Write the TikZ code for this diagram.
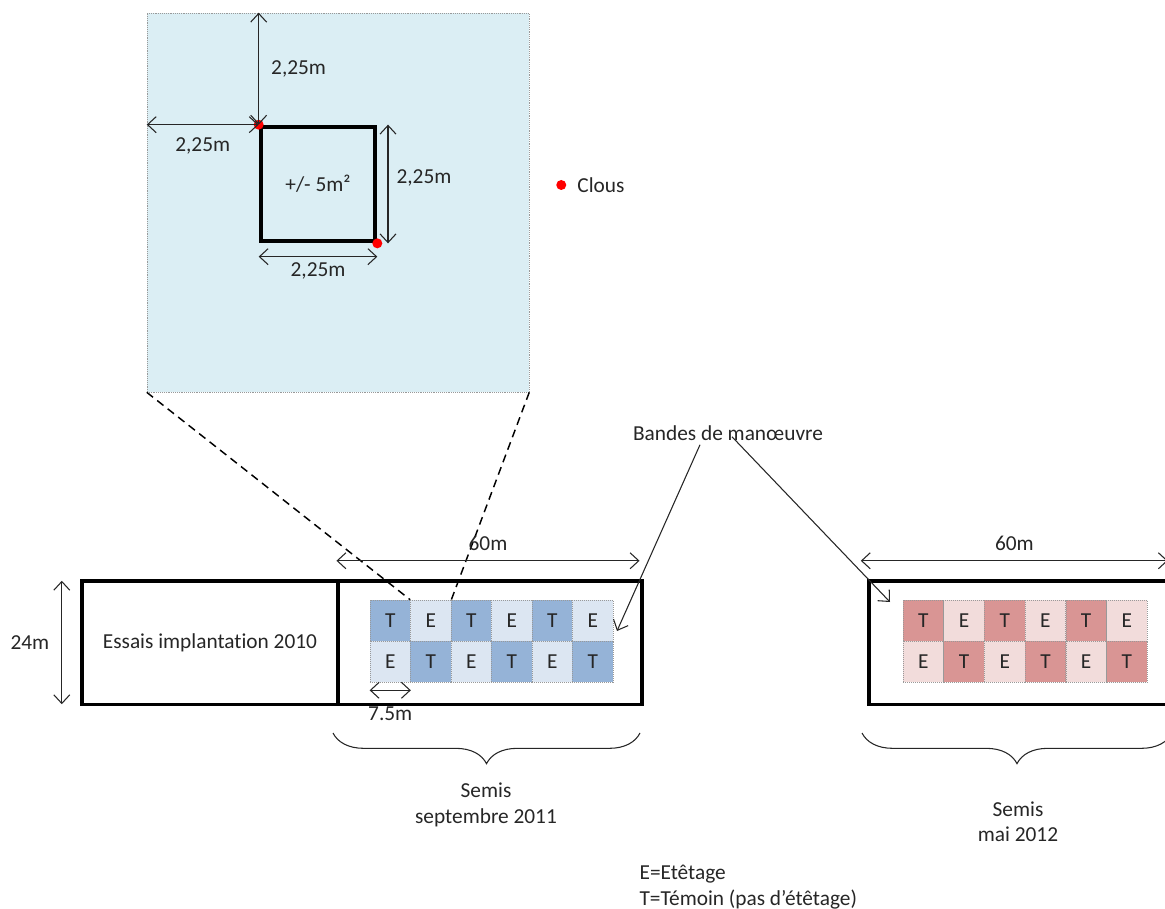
\documentclass[tikz,border=0pt]{standalone}
\usepackage{fontspec}
\setmainfont{Carlito}[Ligatures=NoCommon]
\usetikzlibrary{arrows.meta,positioning,decorations.pathreplacing}
\definecolor{zoomfill}{RGB}{219,238,244}
\definecolor{tblue}{RGB}{149,179,215}
\definecolor{eblue}{RGB}{220,230,242}
\definecolor{tred}{RGB}{217,149,148}
\definecolor{ered}{RGB}{242,220,219}
\tikzset{
  dim/.style={{Straight Barb[length=6.5pt,width=12pt]}-{Straight Barb[length=6.5pt,width=12pt]},line width=0.8pt,black!85},
  ptr/.style={-{Straight Barb[length=6.5pt,width=12pt]},line width=0.8pt,black!85},
  lbl/.style={font=\fontsize{16}{19}\selectfont,text=black!85,inner sep=1pt},
  field/.style={draw,line width=2.3pt,inner sep=0pt,lbl},
  cell/.style={draw=gray!80,densely dotted,line width=0.5pt,minimum width=30.4pt,minimum height=30.7pt,inner sep=0pt,lbl},
  clou/.style={circle,fill=red,inner sep=0pt,minimum size=7.5pt},
  accolade/.style={decorate,decoration={brace,mirror,amplitude=23pt,aspect=0.5},line width=0.8pt,black!85},
  zoomline/.style={dash pattern=on 6pt off 4pt,line width=1.1pt},
}

\begin{document}
\begin{tikzpicture}[x=0.75pt,y=-0.75pt]
\path[use as bounding box,clip] (0,0) rectangle (1165,909);

% zoom on one plot
\node[draw=gray!80,densely dotted,fill=zoomfill,minimum width=286.5pt,minimum height=284.3pt] (zoom) at (338,202.5) {};
\node[draw,line width=3.5pt,minimum size=85.5pt,lbl] (plot) at (318,184) {+/- 5m²};
\node[clou] (c1) at (plot.north west) {};
\node[clou] (c2) at (plot.south east) {};

\draw[dim] (zoom.north -| plot.west) -- (plot.north west)
  node[midway,right=8pt,lbl] (h1) {2,25m};
\draw[dim] (zoom.west |- plot.north) -- (plot.north west)
  node[midway,below=8pt,lbl] (h2) {2,25m};
\draw[dim] ([xshift=8pt]plot.north east) -- ([xshift=8pt]plot.south east)
  node[pos=0.45,right=5pt,lbl] (h3) {2,25m};
\draw[dim] ([yshift=-10pt]plot.south west) -- ([yshift=-10pt]plot.south east)
  node[midway,below=3pt,lbl] (h4) {2,25m};

% legend nail
\node[lbl] (clous) at (601,185) {Clous};
\node[clou,left=7pt of clous] (cl) {};

% fields
\node[field,minimum width=192pt,minimum height=92.3pt] (essais) at (210,642.5) {Essais implantation 2010};
\node[field,minimum width=228pt,minimum height=92.3pt] (f2011) at (490,642.5) {};
\node[field,minimum width=228pt,minimum height=92.3pt] (f2012) at (1021,642.5) {};

% sub-plots
\foreach \r in {1,2}
  \foreach \c in {1,...,6}{
    \pgfmathtruncatemacro{\odd}{mod(\c+\r,2)}
    \ifnum\odd=0
      \node[cell,fill=tblue] (s-\r-\c) at ({370+40.5*(\c-0.5)},{600+41*(\r-0.5)}) {T};
      \node[cell,fill=tred] (m-\r-\c) at ({903+40.7*(\c-0.5)},{600+41*(\r-0.5)}) {T};
    \else
      \node[cell,fill=eblue] (s-\r-\c) at ({370+40.5*(\c-0.5)},{600+41*(\r-0.5)}) {E};
      \node[cell,fill=ered] (m-\r-\c) at ({903+40.7*(\c-0.5)},{600+41*(\r-0.5)}) {E};
    \fi
  }

\draw[zoomline] (zoom.south west) -- (s-1-2.north west);
\draw[zoomline] (zoom.south east) -- (s-1-2.north east);

% dimensions
\draw[dim] ([xshift=-14pt,yshift=-1pt]essais.north west) -- ([xshift=-14pt,yshift=1pt]essais.south west)
  node[midway,left=8pt,lbl] (w24) {24m};
\draw[dim] ([yshift=14pt]f2011.north west) -- ([yshift=14pt,xshift=-3pt]f2011.north east)
  node[midway,above=6pt,lbl] (l1) {60m};
\draw[dim] ([yshift=14pt,xshift=-5pt]f2012.north west) -- ([yshift=14pt,xshift=-5pt]f2012.north east)
  node[midway,above=6pt,lbl] (l2) {60m};
\draw[dim] ([yshift=-6pt]s-2-1.south west) -- ([yshift=-6pt]s-2-1.south east)
  node[midway,below=11pt,lbl] (w75) {7.5m};

% manoeuvre bands
\node[lbl] (bandes) at (728,433) {Bandes de manœuvre};
\coordinate (b1) at (617,631);
\coordinate (b2) at (890,602);
\draw[ptr] ([xshift=-21pt,yshift=-2pt]bandes.south) -- (b1);
\draw[ptr] ([xshift=3pt,yshift=4pt]bandes.south) -- (b2);

% sowing dates
\coordinate (a1) at (333,733);
\coordinate (a2) at (640,733);
\coordinate (a3) at (862,733);
\coordinate (a4) at (1172,733);
\draw[accolade] (a1) -- (a2);
\draw[accolade] (a3) -- (a4);
\node[lbl,align=center] (sem1) at (486,805) {Semis\\septembre 2011};
\node[lbl,align=center] (sem2) at (1018,822) {Semis\\mai 2012};

\node[lbl,align=left,anchor=west] (code) at (638,887) {E=Etêtage\\T=Témoin (pas d’étêtage)};
\end{tikzpicture}
\end{document}
